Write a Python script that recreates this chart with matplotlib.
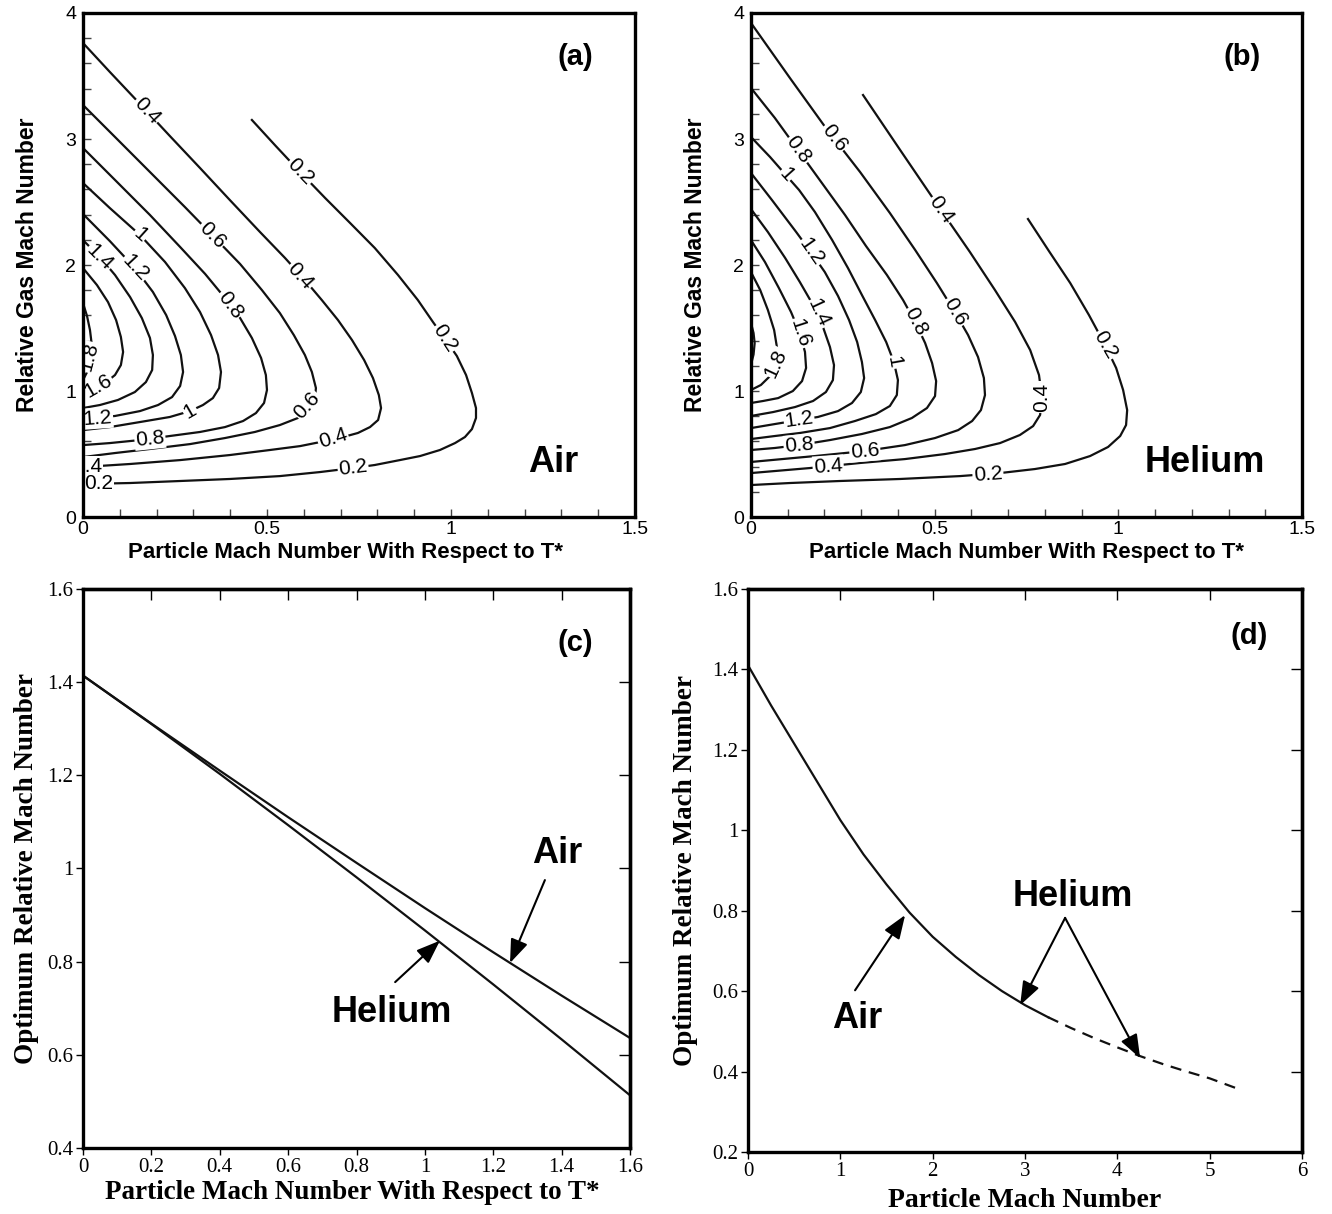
"""Optimum relative Mach number figure: contour maps for air / helium and
optimum-curve comparison panels (a)-(d)."""

import matplotlib
matplotlib.use("Agg")
import matplotlib.pyplot as plt
from matplotlib.ticker import FixedLocator, MultipleLocator, FuncFormatter

SANS = "Liberation Sans"
SERIF = "Liberation Serif"

# PANEL (a) - AIR, contour lines as (particle Mach, relative gas Mach) pairs

air_c02 = [(0.459, 3.151), (0.524, 2.944), (0.590, 2.738), (0.658, 2.532),
           (0.726, 2.333), (0.793, 2.135), (0.856, 1.921), (0.910, 1.722),
           (0.951, 1.548), (0.986, 1.405), (1.016, 1.278), (1.041, 1.127),
           (1.057, 0.984), (1.068, 0.865), (1.068, 0.786), (1.057, 0.698),
           (1.038, 0.635), (1.011, 0.587), (0.970, 0.532), (0.916, 0.484),
           (0.861, 0.452), (0.793, 0.413), (0.734, 0.389), (0.644, 0.357),
           (0.535, 0.325), (0.399, 0.302), (0.264, 0.286), (0.128, 0.270),
           (0.0, 0.262)]
air_c04 = [(0.0, 3.762), (0.073, 3.532), (0.155, 3.278), (0.236, 3.024),
           (0.318, 2.770), (0.399, 2.516), (0.481, 2.262), (0.549, 2.056),
           (0.603, 1.881), (0.649, 1.722), (0.693, 1.563), (0.731, 1.405),
           (0.764, 1.246), (0.788, 1.103), (0.804, 0.968), (0.810, 0.865),
           (0.802, 0.770), (0.780, 0.714), (0.747, 0.667), (0.707, 0.635),
           (0.658, 0.603), (0.590, 0.563), (0.508, 0.532), (0.399, 0.492),
           (0.264, 0.452), (0.128, 0.421), (0.0, 0.397)]
air_c06 = [(0.0, 3.270), (0.087, 3.016), (0.182, 2.738), (0.277, 2.460),
           (0.351, 2.238), (0.427, 2.008), (0.486, 1.802), (0.535, 1.619),
           (0.573, 1.444), (0.603, 1.286), (0.622, 1.151), (0.633, 1.024),
           (0.630, 0.929), (0.614, 0.849), (0.584, 0.786), (0.535, 0.730),
           (0.467, 0.675), (0.386, 0.627), (0.291, 0.579), (0.182, 0.540),
           (0.087, 0.508), (0.0, 0.476)]
air_c08 = [(0.0, 2.929), (0.087, 2.675), (0.182, 2.397), (0.264, 2.143),
           (0.332, 1.929), (0.386, 1.738), (0.427, 1.579), (0.459, 1.421),
           (0.484, 1.262), (0.497, 1.127), (0.500, 1.008), (0.492, 0.905),
           (0.470, 0.825), (0.435, 0.762), (0.386, 0.714), (0.318, 0.675),
           (0.236, 0.643), (0.155, 0.611), (0.073, 0.587), (0.0, 0.571)]
air_c10 = [(0.0, 2.651), (0.073, 2.452), (0.155, 2.238), (0.223, 2.024),
           (0.277, 1.817), (0.318, 1.627), (0.348, 1.444), (0.367, 1.286),
           (0.375, 1.151), (0.370, 1.024), (0.353, 0.944), (0.326, 0.889),
           (0.291, 0.841), (0.236, 0.794), (0.155, 0.754), (0.073, 0.714),
           (0.0, 0.690)]
air_c12 = [(0.0, 2.405), (0.073, 2.190), (0.141, 1.976), (0.190, 1.786),
           (0.226, 1.603), (0.250, 1.437), (0.266, 1.286), (0.272, 1.151),
           (0.264, 1.040), (0.242, 0.952), (0.204, 0.889), (0.155, 0.841),
           (0.087, 0.802), (0.0, 0.778)]
air_c14 = [(0.0, 2.198), (0.046, 2.063), (0.087, 1.921), (0.128, 1.746),
           (0.160, 1.579), (0.182, 1.421), (0.190, 1.286), (0.188, 1.167),
           (0.171, 1.071), (0.141, 0.992), (0.095, 0.929), (0.046, 0.889),
           (0.0, 0.865)]
air_c16 = [(0.0, 1.976), (0.038, 1.841), (0.068, 1.706), (0.090, 1.563),
           (0.103, 1.429), (0.109, 1.310), (0.103, 1.206), (0.087, 1.127),
           (0.060, 1.063), (0.030, 1.024), (0.0, 1.000)]
air_c18 = [(0.0, 1.698), (0.011, 1.595), (0.019, 1.484), (0.024, 1.365),
           (0.022, 1.262), (0.014, 1.167), (0.0, 1.087)]

# PANEL (b) - HELIUM

he_c02 = [(0.754, 2.365), (0.811, 2.111), (0.869, 1.857), (0.920, 1.603),
          (0.964, 1.365), (0.994, 1.183), (1.013, 1.008), (1.024, 0.849),
          (1.021, 0.730), (1.005, 0.643), (0.972, 0.556), (0.923, 0.484),
          (0.855, 0.421), (0.773, 0.381), (0.678, 0.349), (0.569, 0.325),
          (0.406, 0.302), (0.242, 0.286), (0.106, 0.270), (0.0, 0.254)]
he_c04 = [(0.305, 3.349), (0.406, 2.913), (0.517, 2.437), (0.596, 2.103),
          (0.664, 1.802), (0.719, 1.548), (0.760, 1.325), (0.784, 1.127),
          (0.792, 0.952), (0.787, 0.810), (0.768, 0.722), (0.732, 0.651),
          (0.678, 0.587), (0.610, 0.540), (0.528, 0.500), (0.419, 0.460),
          (0.297, 0.429), (0.161, 0.389), (0.0, 0.349)]
he_c06 = [(0.0, 3.921), (0.106, 3.484), (0.204, 3.087), (0.297, 2.738),
          (0.378, 2.413), (0.447, 2.119), (0.506, 1.857), (0.555, 1.627),
          (0.591, 1.444), (0.618, 1.270), (0.634, 1.103), (0.637, 0.968),
          (0.626, 0.849), (0.602, 0.762), (0.564, 0.690), (0.501, 0.627),
          (0.419, 0.571), (0.310, 0.524), (0.174, 0.484), (0.0, 0.437)]
he_c08 = [(0.0, 3.405), (0.065, 3.167), (0.128, 2.913), (0.193, 2.651),
          (0.256, 2.397), (0.313, 2.151), (0.370, 1.921), (0.414, 1.722),
          (0.447, 1.548), (0.474, 1.381), (0.493, 1.222), (0.504, 1.079),
          (0.501, 0.960), (0.479, 0.865), (0.438, 0.786), (0.378, 0.714),
          (0.302, 0.659), (0.215, 0.611), (0.131, 0.571), (0.065, 0.548),
          (0.0, 0.532)]
he_c10 = [(0.0, 3.016), (0.052, 2.857), (0.095, 2.714), (0.131, 2.595),
          (0.174, 2.421), (0.221, 2.198), (0.264, 1.976), (0.302, 1.762),
          (0.338, 1.563), (0.368, 1.389), (0.389, 1.230), (0.400, 1.087),
          (0.397, 0.968), (0.378, 0.881), (0.340, 0.817), (0.283, 0.762),
          (0.215, 0.706), (0.133, 0.667), (0.065, 0.643), (0.0, 0.619)]
he_c12 = [(0.0, 2.730), (0.057, 2.516), (0.123, 2.262), (0.163, 2.103),
          (0.201, 1.944), (0.237, 1.754), (0.267, 1.563), (0.289, 1.389),
          (0.302, 1.230), (0.308, 1.103), (0.299, 0.992), (0.275, 0.905),
          (0.237, 0.841), (0.182, 0.794), (0.131, 0.770), (0.065, 0.738),
          (0.0, 0.706)]
he_c14 = [(0.0, 2.444), (0.046, 2.262), (0.093, 2.056), (0.133, 1.865),
          (0.169, 1.683), (0.196, 1.508), (0.215, 1.349), (0.226, 1.206),
          (0.223, 1.087), (0.204, 0.992), (0.169, 0.921), (0.120, 0.873),
          (0.060, 0.833), (0.0, 0.802)]
he_c16 = [(0.0, 2.198), (0.038, 2.024), (0.076, 1.817), (0.109, 1.627),
          (0.133, 1.460), (0.147, 1.310), (0.150, 1.183), (0.139, 1.079),
          (0.114, 1.000), (0.074, 0.944), (0.033, 0.921), (0.0, 0.905)]
he_c18 = [(0.0, 1.944), (0.025, 1.802), (0.046, 1.643), (0.063, 1.484),
          (0.071, 1.341), (0.068, 1.222), (0.052, 1.119), (0.027, 1.048),
          (0.0, 1.008)]
he_c20 = [(0.0, 1.540), (0.007, 1.460), (0.010, 1.380), (0.007, 1.290),
          (0.0, 1.210)]

# PANEL (c) - optimum relative Mach vs particle Mach (w.r.t. T*)

c_mp = [0.0, 0.2, 0.4, 0.6, 0.8, 1.0, 1.2, 1.4, 1.6]
c_air = [1.414, 1.311, 1.210, 1.110, 1.012, 0.915, 0.820, 0.727, 0.636]
c_helium = [1.414, 1.310, 1.203, 1.093, 0.981, 0.867, 0.751, 0.633, 0.513]

# PANEL (d) - optimum relative Mach vs particle Mach

d_air_mp = [0.0, 0.25, 0.5, 0.75, 1.0, 1.25, 1.5, 1.75, 2.0, 2.25, 2.5,
            2.75, 3.0, 3.25]
d_air = [1.41, 1.31, 1.215, 1.12, 1.025, 0.94, 0.865, 0.795, 0.735, 0.685,
         0.64, 0.60, 0.565, 0.535]
d_he_mp = [3.25, 3.5, 3.75, 4.0, 4.25, 4.5, 4.75, 5.0, 5.33]
d_helium = [0.535, 0.508, 0.483, 0.46, 0.438, 0.418, 0.40, 0.383, 0.355]


def fmt_g(v, pos):
    return f"{v:g}"


fig = plt.figure(figsize=(13.32, 12.14), dpi=100)


def contour_panel(rect, lines, labels, tag, gas, gas_x, xlab_x):
    """Contour map drawn from traced iso-lines, with inline labels"""
    ax = fig.add_axes(rect)
    for pts in lines:
        ax.plot([p[0] for p in pts], [p[1] for p in pts], color="#111111",
                lw=1.6, zorder=2, solid_joinstyle="round")
    # labels sit between the lines and the spines, so the frame stays whole
    for x, y, s, rot in labels:
        ax.text(x, y, s, rotation=rot, rotation_mode="anchor", ha="center",
                va="center", fontsize=15, family=SANS, zorder=2.3,
                clip_on=True,
                bbox=dict(boxstyle="square,pad=0.05", fc="white", ec="none"))
    ax.set_xlim(0, 1.5)
    ax.set_ylim(0, 4)
    ax.xaxis.set_major_locator(FixedLocator([0, 0.5, 1, 1.5]))
    ax.xaxis.set_minor_locator(MultipleLocator(0.1))
    ax.yaxis.set_major_locator(MultipleLocator(1))
    ax.yaxis.set_minor_locator(MultipleLocator(0.2))
    ax.xaxis.set_major_formatter(FuncFormatter(fmt_g))
    ax.yaxis.set_major_formatter(FuncFormatter(fmt_g))
    ax.tick_params(which="both", direction="in", length=6, width=1,
                   color="#444444", top=False, right=False)
    ax.tick_params(axis="x", pad=3)
    ax.tick_params(axis="y", pad=5)
    for lab in ax.get_xticklabels() + ax.get_yticklabels():
        lab.set_family(SANS)
        lab.set_fontsize(14)
    for sp in ax.spines.values():
        sp.set_linewidth(2.4)
    ax.set_xlabel("Particle Mach Number With Respect to T*", family=SANS,
                  fontsize=16, fontweight="bold")
    ax.set_ylabel("Relative Gas Mach Number", family=SANS, fontsize=16.5,
                  fontweight="bold")
    ax.xaxis.set_label_coords(xlab_x, -0.05)
    ax.yaxis.set_label_coords(-0.08, 0.5)
    ax.text(1.337, 3.65, tag, family=SANS, fontsize=21, fontweight="bold",
            ha="center", va="center")
    ax.text(gas_x, 0.43, gas, family=SANS, fontsize=26, fontweight="bold",
            ha="center", va="center")
    return ax


def serif_ticks(ax, xticks, yticks):
    ax.set_xticks(xticks)
    ax.set_yticks(yticks)
    ax.xaxis.set_major_formatter(FuncFormatter(fmt_g))
    ax.yaxis.set_major_formatter(FuncFormatter(fmt_g))
    ax.tick_params(direction="out", length=5, width=1, pad=2)
    for lab in ax.get_xticklabels() + ax.get_yticklabels():
        lab.set_family(SERIF)
        lab.set_fontsize(15)
    top = ax.secondary_xaxis("top")
    top.set_xticks(xticks)
    top.tick_params(direction="in", length=8, width=1, labeltop=False)
    right = ax.secondary_yaxis("right")
    right.set_yticks(yticks)
    right.tick_params(direction="in", length=8, width=1, labelright=False)
    for sp in list(ax.spines.values()) + [top.spines["top"],
                                          right.spines["right"]]:
        sp.set_linewidth(2.4)


arrow = dict(arrowstyle="-|>,head_length=0.8,head_width=0.3",
             mutation_scale=18, lw=1.5, color="black", shrinkA=0, shrinkB=0)

# (a)
labels_a = [
    (0.174, 3.225, "0.4", -47), (0.351, 2.238, "0.6", -45),
    (0.399, 1.683, "0.8", -53), (0.155, 2.238, "1", -42),
    (0.141, 1.976, "1.2", -47), (0.046, 2.063, "1.4", -45),
    (0.590, 2.738, "0.2", -46), (0.590, 1.910, "0.4", -48),
    (0.984, 1.420, "0.2", -57), (0.609, 0.889, "0.6", 48),
    (0.679, 0.628, "0.4", 18), (0.734, 0.389, "0.2", 7),
    (0.291, 0.841, "1", 30), (0.182, 0.621, "0.8", 6),
    (0.040, 0.784, "1.2", 4), (0.042, 1.040, "1.6", 30),
    (0.016, 1.27, "1.8", 75), (0.012, 0.400, "0.4", 0),
    (0.042, 0.264, "0.2", 0),
]
contour_panel([0.0623, 0.5741, 0.4144, 0.4152],
              [air_c02, air_c04, air_c06, air_c08, air_c10, air_c12,
               air_c14, air_c16, air_c18],
              labels_a, "(a)", "Air", 1.277, 0.475)

# (b)
labels_b = [
    (0.226, 3.008, "0.6", -52), (0.128, 2.913, "0.8", -54),
    (0.095, 2.714, "1", -48), (0.163, 2.103, "1.2", -55),
    (0.185, 1.620, "1.4", -65), (0.133, 1.460, "1.6", -72),
    (0.068, 1.222, "1.8", 65), (0.517, 2.437, "0.4", -55),
    (0.555, 1.627, "0.6", -60), (0.447, 1.548, "0.8", -63),
    (0.389, 1.230, "1", -80), (0.964, 1.365, "0.2", -60),
    (0.792, 0.952, "0.4", 90), (0.131, 0.770, "1.2", 8),
    (0.131, 0.571, "0.8", 5), (0.310, 0.524, "0.6", 5),
    (0.210, 0.405, "0.4", 4), (0.645, 0.341, "0.2", 4),
]
contour_panel([0.5638, 0.5741, 0.4137, 0.4152],
              [he_c02, he_c04, he_c06, he_c08, he_c10, he_c12, he_c14,
               he_c16, he_c18, he_c20],
              labels_b, "(b)", "Helium", 1.236, 0.5)

# (c)
ax_c = fig.add_axes([0.0623, 0.0544, 0.4107, 0.4605])
ax_c.plot(c_mp, c_air, color="#111111", lw=1.6)
ax_c.plot(c_mp, c_helium, color="#111111", lw=1.6)
ax_c.set_xlim(0, 1.6)
ax_c.set_ylim(0.4, 1.6)
serif_ticks(ax_c, [0, 0.2, 0.4, 0.6, 0.8, 1.0, 1.2, 1.4, 1.6],
            [0.4, 0.6, 0.8, 1.0, 1.2, 1.4, 1.6])
ax_c.set_xlabel("Particle Mach Number With Respect to T*", family=SERIF,
                fontsize=19.5, fontweight="bold")
ax_c.set_ylabel("Optimum Relative Mach Number", family=SERIF, fontsize=19.5,
                fontweight="bold")
ax_c.xaxis.set_label_coords(0.493, -0.058)
ax_c.yaxis.set_label_coords(-0.08, 0.5)
ax_c.text(1.44, 1.484, "(c)", family=SANS, fontsize=21, fontweight="bold",
          ha="center", va="center")
ax_c.text(1.386, 1.033, "Air", family=SANS, fontsize=26, fontweight="bold",
          ha="center", va="center")
ax_c.text(0.904, 0.69, "Helium", family=SANS, fontsize=26, fontweight="bold",
          ha="center", va="center")
ax_c.annotate("", xy=(1.249, 0.797), xytext=(1.351, 0.975),
              arrowprops=arrow)
ax_c.annotate("", xy=(1.044, 0.845), xytext=(0.913, 0.756),
              arrowprops=arrow)

# (d)
ax_d = fig.add_axes([0.5616, 0.0511, 0.4159, 0.4638])
ax_d.plot(d_he_mp, d_helium, color="#111111", lw=1.6, dashes=(5, 3.5))
ax_d.plot(d_air_mp, d_air, color="#111111", lw=1.6)
ax_d.set_xlim(0, 6)
ax_d.set_ylim(0.2, 1.6)
serif_ticks(ax_d, [0, 1, 2, 3, 4, 5, 6],
            [0.2, 0.4, 0.6, 0.8, 1.0, 1.2, 1.4, 1.6])
ax_d.set_xlabel("Particle Mach Number", family=SERIF, fontsize=20,
                fontweight="bold")
ax_d.set_ylabel("Optimum Relative Mach Number", family=SERIF, fontsize=19.5,
                fontweight="bold")
ax_d.xaxis.set_label_coords(0.5, -0.064)
ax_d.yaxis.set_label_coords(-0.09, 0.5)
ax_d.text(5.43, 1.482, "(d)", family=SANS, fontsize=21, fontweight="bold",
          ha="center", va="center")
ax_d.text(1.18, 0.533, "Air", family=SANS, fontsize=26, fontweight="bold",
          ha="center", va="center")
ax_d.text(3.52, 0.834, "Helium", family=SANS, fontsize=26, fontweight="bold",
          ha="center", va="center")
ax_d.annotate("", xy=(1.701, 0.789), xytext=(1.159, 0.602), arrowprops=arrow)
ax_d.annotate("", xy=(2.947, 0.565), xytext=(3.434, 0.782), arrowprops=arrow)
ax_d.annotate("", xy=(4.247, 0.433), xytext=(3.434, 0.782), arrowprops=arrow)

fig.savefig("out.png", dpi=100)
